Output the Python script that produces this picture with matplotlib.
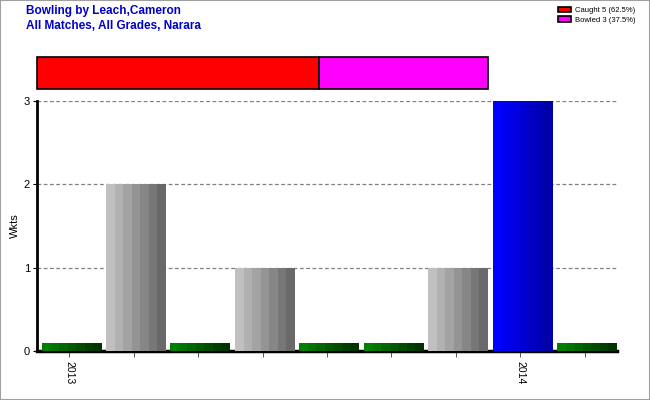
import matplotlib
matplotlib.use("Agg")
import matplotlib.pyplot as plt
import numpy as np
from matplotlib.colors import LinearSegmentedColormap

plt.rcParams['font.family'] = ['Liberation Sans', 'DejaVu Sans']

# Data
wickets = [0.1, 2, 0.1, 1, 0.1, 0.1, 1, 3, 0.1]
bar_kinds = ['green', 'grey', 'green', 'grey', 'green', 'green', 'grey', 'blue', 'green']
tick_labels = ['2013', '', '', '', '', '', '', '2014', '']
dismissal_names = ['Caught 5 (62.5%)', 'Bowled 3 (37.5%)']
dismissal_counts = [5, 3]
dismissal_colors = ['#ff0000', '#ff00ff']
title_lines = ['Bowling by Leach,Cameron', 'All Matches, All Grades, Narara']

gradients = {
    'green': ['#008000', '#003300'],
    'grey': ['#c0c0c0', '#696969'],
    'blue': ['#0000ff', '#0000a8'],
}

W, H = 650, 400
fig = plt.figure(figsize=(6.5, 4.0), dpi=100)

# border
fig.patches.append(plt.Rectangle((0, 0), 1, 1, transform=fig.transFigure,
                                 fill=False, edgecolor='#a0a0a0', linewidth=1.5))

# Titles
fig.text(26 / W, 1 - 11 / H, title_lines[0], color='#0000cc', fontsize=8.5,
         fontweight='bold', va='center', ha='left')
fig.text(26 / W, 1 - 26 / H, title_lines[1], color='#0000cc', fontsize=8.5,
         fontweight='bold', va='center', ha='left')

# Main axes
ax = fig.add_axes([37 / W, 1 - 351 / H, (617 - 37) / W, (351 - 101) / H])
x = np.arange(len(wickets))
bars = ax.bar(x + 0.03, wickets, width=0.92, color='none', edgecolor='none', zorder=3)
for b, kind in zip(bars, bar_kinds):
    cmap = LinearSegmentedColormap.from_list(kind, gradients[kind], N=7)
    grad = np.linspace(0, 1, 100).reshape(1, -1)
    bx, by = b.get_x(), b.get_y()
    bw, bh = b.get_width(), b.get_height()
    im = ax.imshow(grad, cmap=cmap, aspect='auto', extent=(bx, bx + bw, by, by + bh),
                   zorder=3, interpolation='nearest')
    im.set_clip_path(b)

ax.set_xlim(-0.5, len(wickets) - 0.5)
ax.set_ylim(0, 3)
ax.set_yticks([0, 1, 2, 3])
ax.set_yticklabels(['0', '1', '2', '3'], fontsize=8)
ax.set_xticks(x)
ax.set_xticklabels(tick_labels, rotation=-90, fontsize=7.5)
ax.tick_params(axis='x', length=4, width=0.6, color='#404040', pad=3)
ax.tick_params(axis='y', length=3, width=0.8, pad=2)
for yv in [1, 2, 3]:
    ax.axhline(yv, color='#808080', linestyle=(0, (3, 2)), linewidth=0.9, zorder=1)
for s in ['top', 'right']:
    ax.spines[s].set_visible(False)
ax.spines['left'].set_linewidth(2)
ax.spines['bottom'].set_linewidth(2.5)
ax.set_ylabel('Wkts', fontsize=8, labelpad=3)

# Top stacked bar
ax2 = fig.add_axes([37 / W, 1 - 89 / H, (488 - 37) / W, (89 - 57) / H])
left = 0
handles = []
for name, cnt, col in zip(dismissal_names, dismissal_counts, dismissal_colors):
    h = ax2.barh(0, cnt, left=left, color=col, edgecolor='black', linewidth=1.2,
                 height=1, label=name)
    for p in h:
        p.set_clip_on(False)
    handles.append(h)
    left += cnt
ax2.set_xlim(0, sum(dismissal_counts))
ax2.set_ylim(-0.5, 0.5)
ax2.axis('off')

leg = fig.legend(handles=handles, labels=dismissal_names, loc='upper right',
                 bbox_to_anchor=(0.985, 0.995), fontsize=5.5, frameon=False,
                 handlelength=1.6, handleheight=0.8, labelspacing=0.3,
                 handletextpad=0.6, borderaxespad=0.2)

fig.savefig('out.png', dpi=100)
